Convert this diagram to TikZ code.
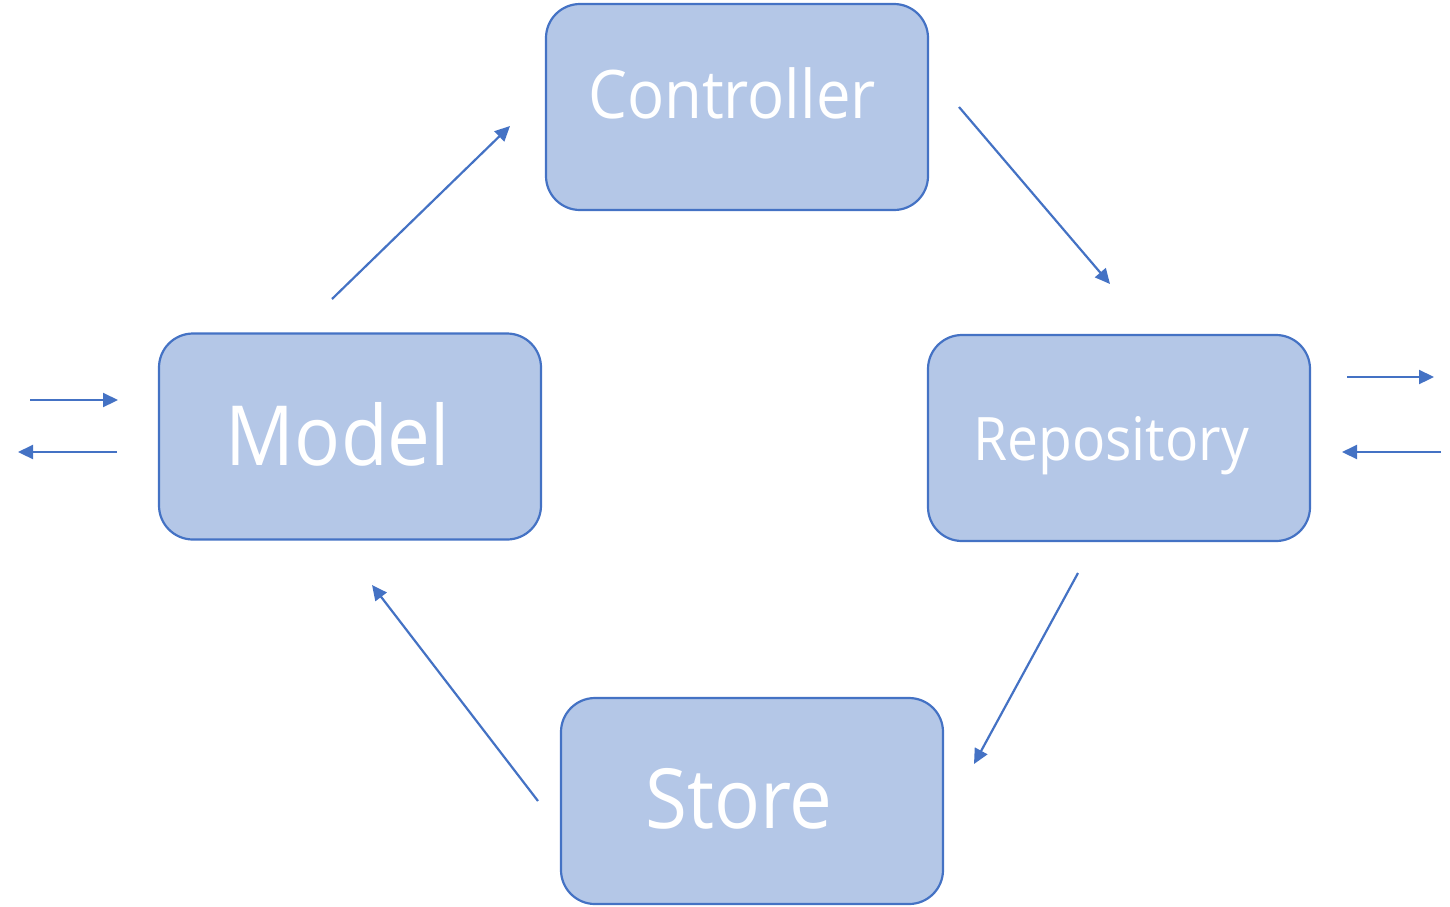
\documentclass[tikz,border=0pt]{standalone}
\usepackage{fontspec}
\setmainfont[FakeStretch=0.92]{Open Sans}
\usetikzlibrary{arrows.meta}
\definecolor{boxfill}{HTML}{B4C7E7}
\definecolor{boxline}{HTML}{4472C4}
\begin{document}
\begin{tikzpicture}[x=1pt,y=-1pt,
  box/.style={draw=boxline,fill=boxfill,line width=2.2pt,rounded corners=34pt,
    minimum width=382pt,minimum height=206pt,inner sep=0pt,outer sep=0pt},
  lbl/.style={text=white,anchor=base,inner sep=0pt},
  conn/.style={draw=boxline,line width=2.2pt,-{Triangle[length=15pt,width=14pt]}}]
\useasboundingbox (0,0) rectangle (1450,906);
\node[box] (ctrl) at (737,107) {};
\node[box] (model) at (350,436.5) {};
\node[box] (repo) at (1119,438) {};
\node[box] (store) at (752,801) {};
\node[lbl,font=\fontsize{67}{80}\selectfont] (ctrlt) at (732,118) {Controller};
\node[lbl,font=\fontsize{83}{96}\selectfont] (modelt) at (338,465) {Model};
\node[lbl,font=\fontsize{60}{70}\selectfont] (repot) at (1111,460) {Repository};
\node[lbl,font=\fontsize{83}{96}\selectfont] (storet) at (739,828) {Store};
\coordinate (a1) at (332,299); \coordinate (a2) at (510,126);
\coordinate (b1) at (959,107); \coordinate (b2) at (1110,284);
\coordinate (c1) at (1078,573); \coordinate (c2) at (974,764);
\coordinate (d1) at (538,801); \coordinate (d2) at (372,585);
\coordinate (l1) at (30,400); \coordinate (l2) at (118,400);
\coordinate (l3) at (117,452); \coordinate (l4) at (18,452);
\coordinate (r1) at (1347,377); \coordinate (r2) at (1434,377);
\coordinate (r3) at (1441,452); \coordinate (r4) at (1342,452);
\draw[conn] (a1) -- (a2);
\draw[conn] (b1) -- (b2);
\draw[conn] (c1) -- (c2);
\draw[conn] (d1) -- (d2);
\draw[conn] (l1) -- (l2);
\draw[conn] (l3) -- (l4);
\draw[conn] (r1) -- (r2);
\draw[conn] (r3) -- (r4);
\end{tikzpicture}
\end{document}
